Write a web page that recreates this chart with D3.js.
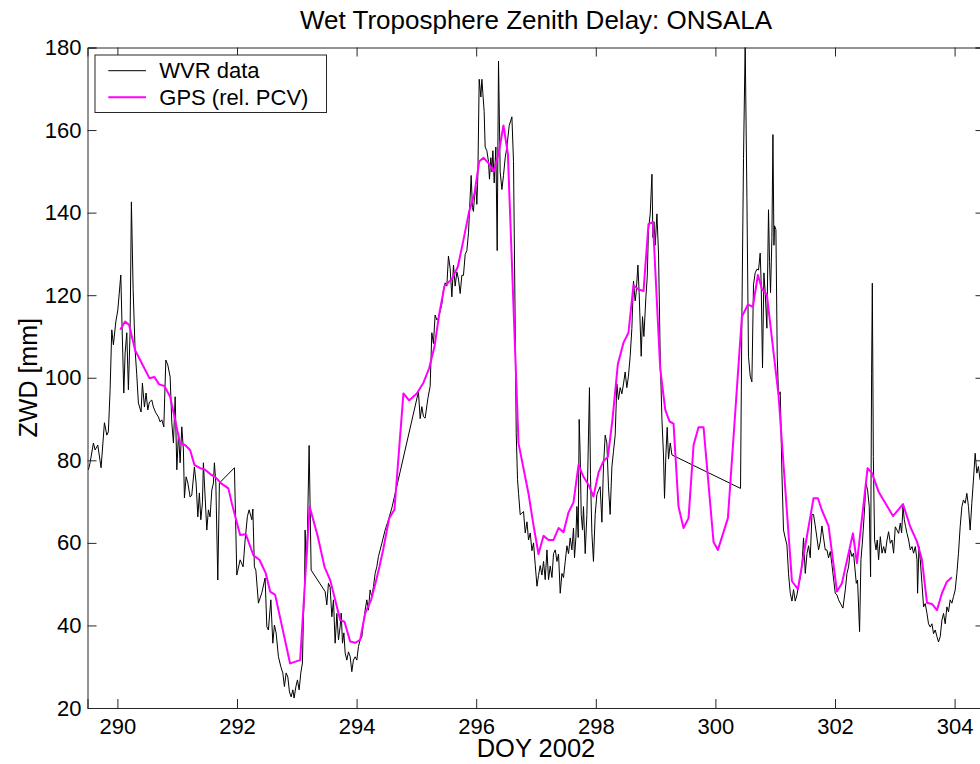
<!DOCTYPE html>
<html>
<head>
<meta charset="utf-8">
<script src="https://cdn.jsdelivr.net/npm/d3@7/dist/d3.min.js"></script>
<style>
  body { margin: 0; background: #fff; }
  svg { font-family: "Liberation Sans", Arial, Helvetica, sans-serif; }
</style>
</head>
<body>
<div id="chart"></div>
<script>
// WVR radiometer series (day of year, zenith wet delay in mm)
var wvrDoy = [289.515,289.543,289.599,289.627,289.672,289.727,289.783,289.823,289.849,289.878,289.906,289.933,289.973,290.007,290.057,290.074,290.107,290.129,290.157,290.184,290.212,290.234,290.263,290.296,290.324,290.351,290.396,290.418,290.452,290.480,290.508,290.535,290.575,290.602,290.642,290.686,290.714,290.743,290.776,290.810,290.843,290.882,290.910,290.937,290.966,290.994,291.021,291.049,291.077,291.104,291.121,291.149,291.178,291.216,291.244,291.288,291.316,291.345,291.371,291.395,291.422,291.438,291.455,291.495,291.522,291.550,291.579,291.606,291.622,291.646,291.679,291.706,
  291.957,291.997,292.052,292.102,292.136,292.174,292.203,292.248,292.265,292.291,292.315,292.358,292.415,292.470,292.499,292.525,292.566,292.599,292.626,292.654,292.693,292.733,292.766,292.793,292.822,292.850,292.877,292.905,292.934,292.955,292.984,293.011,293.039,293.067,293.094,293.111,293.128,293.139,293.156,293.178,293.206,293.240,
  293.474,293.502,293.529,293.557,293.586,293.613,293.641,293.670,293.697,293.725,293.742,293.764,293.787,293.809,293.837,293.864,293.893,293.920,293.947,293.976,294.004,294.031,294.059,294.088,294.114,294.143,294.171,294.198,294.226,294.255,294.282,294.310,294.338,294.365,294.422,294.477,294.533,294.590,
  295.034,295.063,295.091,295.118,295.146,295.192,295.230,295.258,295.285,295.313,295.342,295.369,295.397,295.426,295.452,295.481,295.509,295.536,295.564,295.593,295.620,295.648,295.677,295.704,295.732,295.760,295.787,295.816,295.844,295.871,295.899,295.916,295.937,295.954,295.971,295.994,296.011,296.028,296.050,296.078,296.095,296.112,296.133,296.150,296.178,296.205,296.222,296.245,296.262,296.279,296.301,296.329,296.351,296.373,296.401,296.430,296.456,296.485,296.513,296.552,296.597,296.624,296.652,296.669,296.691,296.708,296.736,296.765,296.791,296.820,296.849,296.875,296.904,296.932,296.959,296.987,297.016,297.042,
  297.071,297.099,297.126,297.154,297.183,297.210,297.238,297.267,297.293,297.322,297.350,297.377,297.405,297.434,297.460,297.489,297.517,297.544,297.572,297.600,297.627,297.644,297.667,297.684,297.706,297.722,297.739,297.756,297.778,297.794,297.823,297.851,297.878,297.894,297.911,297.935,297.961,297.990,298.018,298.045,298.073,298.102,298.128,298.157,298.185,298.212,298.240,298.269,298.296,298.324,298.352,298.379,298.408,298.436,298.463,298.491,298.519,298.546,298.575,298.603,298.630,298.658,298.675,298.704,298.725,298.759,298.781,298.804,298.838,298.860,298.881,298.910,298.939,298.955,298.972,298.994,299.022,299.049,299.077,299.106,299.132,299.149,299.172,299.194,299.216,299.245,299.273,
  300.420,300.443,300.470,300.498,300.527,300.553,300.582,300.610,300.637,300.665,300.694,300.721,300.749,300.766,300.788,300.811,300.833,300.861,300.888,300.905,300.922,300.945,300.962,300.979,300.989,301.012,301.034,301.056,301.084,301.113,301.139,301.168,301.196,301.223,301.252,301.280,301.307,301.335,301.364,301.390,301.419,301.447,301.474,301.503,301.531,301.558,301.586,301.615,301.641,301.670,301.698,301.725,301.753,301.782,301.809,301.837,301.865,301.892,301.921,301.949,
  302.004,302.033,302.060,302.088,302.133,302.172,302.200,302.227,302.255,302.284,302.310,302.356,302.377,302.411,302.434,302.461,302.490,302.518,302.545,302.573,302.595,302.612,302.624,302.641,302.662,302.686,302.707,302.729,302.758,302.786,302.813,302.841,302.870,302.896,302.925,302.953,302.980,303.008,303.037,303.064,303.092,303.114,303.137,303.159,303.181,303.204,303.231,303.259,303.288,303.314,303.343,303.371,303.381,303.404,303.426,303.454,303.481,303.509,303.538,303.564,303.593,303.621,303.648,303.676,303.705,303.731,303.760,303.788,303.815,303.843,303.871,303.898,303.926,303.955,303.982,304.010,304.038,304.065,304.093,304.122,304.148,304.177,304.205,304.232,304.260,304.288,304.315,304.344,304.372,304.398,304.427];

var wvrZwd = [77.7,79.4,84.2,82.5,83.7,78.2,89.1,86.1,86.9,97.1,111.6,108.0,113.5,116.4,124.9,114.7,96.3,106.0,110.9,97.1,110.9,142.6,121.3,106.7,100.7,93.9,91.7,98.7,92.9,96.3,92.2,94.1,94.6,92.9,91.5,90.5,89.3,89.8,88.1,104.3,103.1,100.2,89.1,84.2,95.4,77.7,86.6,79.4,88.1,82.5,70.9,76.0,74.5,71.1,71.6,78.4,74.5,66.3,72.1,65.6,69.7,79.4,74.5,63.1,68.0,66.3,72.8,74.5,79.4,74.5,51.0,74.5,
  78.2,52.2,55.9,54.2,60.7,66.4,68.0,65.6,68.2,54.2,53.4,45.4,47.9,51.5,39.7,38.9,46.2,35.7,40.1,38.2,32.4,30.0,28.5,25.2,28.5,27.5,23.9,22.7,24.4,22.4,25.1,26.8,24.4,28.5,30.9,42.1,47.9,63.1,54.2,62.4,83.6,53.4,
  48.2,45.0,50.2,49.3,42.1,46.2,35.7,42.9,36.5,39.7,43.0,35.7,38.2,33.3,31.6,33.6,32.4,28.8,31.6,32.4,31.6,34.9,36.5,37.3,40.6,43.7,46.2,43.7,48.6,46.9,49.4,52.6,54.2,56.7,59.9,63.1,65.6,68.5,
  96.6,90.1,93.0,90.6,90.2,95.0,97.9,110.9,108.3,115.2,114.0,114.5,116.1,117.9,121.3,123.0,122.2,129.5,126.5,119.6,127.3,122.2,125.6,123.9,120.4,124.8,124.8,129.9,130.8,135.1,143.8,149.0,141.2,140.3,143.8,146.4,142.0,149.0,172.3,168.0,172.3,168.8,164.5,155.9,155.0,152.4,148.1,153.3,149.9,155.0,147.2,155.9,130.8,176.7,149.9,145.6,149.0,153.3,155.9,161.1,163.2,152.4,112.6,86.7,75.4,72.0,66.8,67.2,67.6,62.4,65.1,60.7,62.4,58.1,60.0,54.7,49.5,52.1,
  54.5,52.2,55.5,51.1,58.3,51.1,54.4,51.6,57.4,58.3,55.5,57.3,47.8,52.6,51.6,55.5,59.3,57.4,61.2,58.3,63.6,56.4,61.3,68.8,61.3,89.9,81.3,66.9,63.1,68.8,57.4,66.9,86.1,97.6,76.5,62.2,55.5,66.9,71.7,72.7,73.6,65.0,78.4,86.1,84.2,73.6,66.9,78.4,82.2,86.1,98.5,94.7,97.6,96.1,98.5,101.4,97.6,100.4,105.2,111.9,123.4,118.6,120.6,127.3,120.6,105.2,114.8,110.0,119.6,124.4,135.9,139.7,149.3,134.0,137.8,132.1,139.7,130.2,105.2,89.9,81.3,70.8,81.3,88.0,80.3,84.2,81.3,
  73.2,114.8,153.1,181.0,143.6,105.2,100.4,99.0,122.5,125.4,126.3,126.1,130.2,122.5,102.4,125.4,120.6,112.0,140.7,128.2,120.6,134.0,158.9,132.1,136.8,135.9,105.2,95.7,96.6,76.5,63.1,61.2,59.5,52.5,47.8,45.9,48.7,45.9,47.4,49.7,51.5,54.5,61.2,52.6,57.4,59.3,56.4,66.9,66.9,64.1,61.2,58.3,60.2,64.1,61.2,58.3,58.3,56.4,57.9,54.7,
  47.8,47.4,46.2,45.4,44.2,48.6,52.6,54.2,58.3,56.7,57.5,50.2,51.0,38.5,55.9,60.7,67.2,74.4,72.8,68.8,51.8,101.1,122.9,80.9,60.7,58.3,60.7,55.9,61.5,57.5,59.1,57.5,60.7,62.7,59.9,60.7,57.5,63.9,63.1,62.3,64.8,62.4,68.8,65.6,63.9,62.3,60.7,58.3,59.1,57.5,59.1,55.9,47.8,59.1,55.9,50.2,44.5,45.3,42.9,40.4,39.6,40.4,38.0,38.9,37.3,36.0,37.3,41.3,42.9,40.4,44.5,43.3,46.2,45.4,47.0,48.6,52.6,57.5,63.9,68.8,70.4,69.6,72.0,68.8,63.1,69.6,75.2,81.7,76.9,78.5,75.2];

// GPS estimates (relative PCV)
var gpsDoy = [290.047,290.129,290.196,290.296,290.408,290.535,290.619,290.697,290.786,290.882,290.965,291.049,291.132,291.216,291.288,291.383,291.467,291.567,291.634,291.734,291.856,291.913,292.052,292.147,292.274,292.375,292.482,292.554,292.638,292.888,293.056,293.139,293.215,293.352,293.463,293.558,293.641,293.725,293.797,293.893,293.976,294.059,294.143,294.243,294.322,294.382,294.449,294.544,294.633,294.783,294.878,295.007,295.118,295.213,295.302,295.380,295.469,295.593,295.693,295.787,295.882,295.971,296.050,296.122,296.205,296.289,296.373,296.456,296.530,296.708,296.875,296.959,297.042,297.126,297.210,297.293,297.377,297.460,297.544,297.627,297.711,297.794,297.878,297.961,298.045,298.128,298.202,298.279,298.369,298.463,298.546,298.630,298.714,298.798,298.881,298.955,299.077,299.161,299.233,299.300,299.383,299.467,299.551,299.635,299.718,299.802,299.969,300.042,300.209,300.443,300.543,300.627,300.711,300.778,300.861,301.056,301.280,301.380,301.503,301.641,301.714,301.781,301.892,302.033,302.116,302.300,302.367,302.545,302.618,302.729,302.970,303.137,303.259,303.371,303.454,303.538,303.621,303.705,303.788,303.871,303.955];

var gpsZwd = [111.6,113.6,112.8,106.7,103.5,99.9,100.2,98.4,98.0,95.4,89.8,84.1,83.7,82.5,78.9,78.1,77.7,76.5,76.0,74.4,73.2,69.6,61.9,62.1,57.0,55.9,52.6,48.2,47.4,30.8,31.6,51.0,68.8,61.5,54.2,51.0,46.2,41.3,40.9,36.1,35.8,36.5,42.9,46.2,50.6,54.2,58.7,65.9,68.1,96.2,94.5,96.2,98.8,102.3,107.5,115.3,122.2,123.9,126.9,133.4,140.3,144.6,152.4,153.3,152.0,149.9,154.2,161.1,154.2,84.1,71.9,64.2,57.3,61.7,60.7,60.7,63.6,62.6,67.4,69.8,78.9,76.0,74.1,71.2,77.0,79.8,80.8,89.9,103.3,108.5,110.9,122.4,121.4,121.0,137.2,137.7,102.3,92.3,89.4,88.9,68.8,63.6,66.0,83.7,88.0,88.0,60.2,58.3,66.0,114.8,117.7,117.2,124.9,121.5,120.1,95.7,50.7,48.8,59.3,70.8,70.8,67.9,64.1,48.2,50.2,62.3,55.1,78.1,76.9,72.4,66.5,69.4,63.9,60.3,55.9,45.5,45.2,43.7,47.8,50.6,51.7];

var xTicks = [290, 292, 294, 296, 298, 300, 302, 304];
var yTicks = [20, 40, 60, 80, 100, 120, 140, 160, 180];
var seriesNames = ["WVR data", "GPS (rel. PCV)"];
var seriesColors = ["#000000", "#ff00ff"];

var svgWidth = 980;
var svgHeight = 764;

var margin = {top: 47.5, right: -4.5, bottom: 56, left: 87.5};
var width = svgWidth - margin.left - margin.right;
var height = svgHeight - margin.top - margin.bottom;

var svg = d3.select("#chart")
    .append("svg")
        .attr("width", svgWidth)
        .attr("height", svgHeight);

var chartGroup = svg.append("g")
    .attr("transform", `translate(${margin.left}, ${margin.top})`);

var x = d3.scaleLinear().domain([289.5, 304.5]).range([0, width]);
var y = d3.scaleLinear().domain([20, 180]).range([height, 0]);

svg.append("defs").append("clipPath")
    .attr("id", "plotClip")
  .append("rect")
    .attr("width", width)
    .attr("height", height);

var wvr = wvrDoy.map((d, i) => ({doy: d, zwd: wvrZwd[i]}));
var gps = gpsDoy.map((d, i) => ({doy: d, zwd: gpsZwd[i]}));

var line = d3.line()
    .x(d => x(d.doy))
    .y(d => y(d.zwd));

var plot = chartGroup.append("g").attr("clip-path", "url(#plotClip)");

plot.append("path")
    .style("stroke", seriesColors[0])
    .style("stroke-width", 1)
    .style("fill", "none")
    .attr("d", line(wvr));

plot.append("path")
    .style("stroke", seriesColors[1])
    .style("stroke-width", 2)
    .style("stroke-linejoin", "round")
    .style("fill", "none")
    .attr("d", line(gps));

// axes, ticks pointing inward on all four sides
var tickLen = 9;
var axisColor = "#262626";

var xAxis = d3.axisBottom(x).tickValues(xTicks).tickFormat(d3.format("d"))
    .tickSize(-tickLen).tickPadding(10);
var yAxis = d3.axisLeft(y).tickValues(yTicks).tickSize(-tickLen).tickPadding(6);

function styleAxis(g) {
    g.select(".domain").attr("stroke", axisColor);
    g.selectAll(".tick line").attr("stroke", axisColor);
    g.selectAll(".tick text").attr("fill", "#000").style("font-size", "22px");
    g.attr("font-family", null);
}

chartGroup.append("g")
    .attr("transform", "translate(0," + height + ")")
    .call(xAxis).call(styleAxis);

chartGroup.append("g")
    .call(yAxis).call(styleAxis);

chartGroup.append("g")
    .call(d3.axisTop(x).tickValues(xTicks).tickSize(-tickLen).tickFormat(""))
    .call(styleAxis);

chartGroup.append("g")
    .attr("transform", "translate(" + width + ",0)")
    .call(d3.axisRight(y).tickValues(yTicks).tickSize(-tickLen).tickFormat(""))
    .call(styleAxis);

// title and axis labels
svg.append("text")
    .attr("x", margin.left + width / 2)
    .attr("y", 29)
    .attr("text-anchor", "middle")
    .style("font-size", "26px")
    .text("Wet Troposphere Zenith Delay: ONSALA");

svg.append("text")
    .attr("x", margin.left + width / 2)
    .attr("y", 757)
    .attr("text-anchor", "middle")
    .style("font-size", "25.5px")
    .text("DOY 2002");

svg.append("text")
    .attr("transform", "translate(37," + (margin.top + height / 2) + ") rotate(-90)")
    .attr("text-anchor", "middle")
    .style("font-size", "25px")
    .text("ZWD [mm]");

// legend
var legend = svg.append("g").attr("transform", "translate(95, 55)");

legend.append("rect")
    .attr("width", 231.5)
    .attr("height", 57.5)
    .attr("fill", "#fff")
    .attr("stroke", axisColor)
    .attr("stroke-width", 1);

seriesNames.forEach(function(name, i) {
    var ly = 15.7 + i * 26.6;
    legend.append("line")
        .attr("x1", 13.3).attr("x2", 51)
        .attr("y1", ly).attr("y2", ly)
        .attr("stroke", seriesColors[i])
        .attr("stroke-width", i === 0 ? 1 : 2);
    legend.append("text")
        .attr("x", 64.3)
        .attr("y", ly + 7.6)
        .style("font-size", "22px")
        .text(name);
});
</script>
</body>
</html>
